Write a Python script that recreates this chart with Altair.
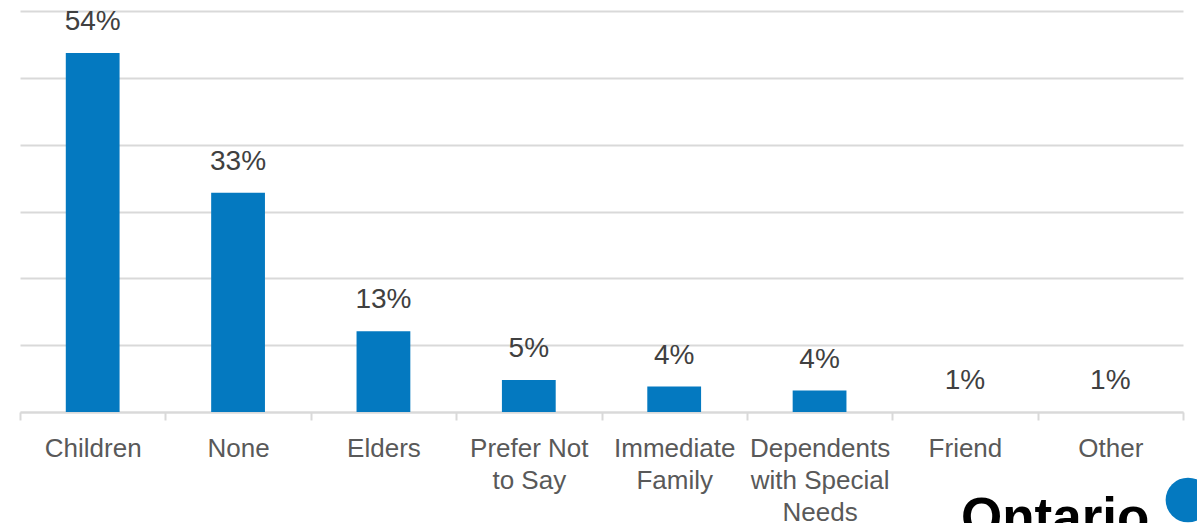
import altair as alt
import pandas as pd

categories = ["Children", "None", "Elders", "Prefer Not\nto Say", "Immediate\nFamily",
              "Dependents\nwith Special\nNeeds", "Friend", "Other"]
bar_values = [53.7, 32.8, 12.1, 4.8, 3.8, 3.2, 0.0, 0.0]
value_labels = ["54%", "33%", "13%", "5%", "4%", "4%", "1%", "1%"]

df = pd.DataFrame({"category": categories, "value": bar_values, "label": value_labels})

FONT = "Liberation Sans"

x = alt.X("category:N", sort=categories, title=None,
          scale=alt.Scale(paddingInner=0, paddingOuter=0),
          axis=alt.Axis(labelAngle=0, labelExpr="split(datum.label, '\\n')",
                        labelFont=FONT, labelFontSize=26, labelColor="#595959",
                        labelLineHeight=32, labelPadding=15, labelBaseline="top",
                        tickBand="extent", tickSize=8, tickColor="#d9d9d9", tickWidth=2,
                        domainColor="#d9d9d9", domainWidth=2, grid=False))
y = alt.Y("value:Q", title=None,
          scale=alt.Scale(domain=[0, 60], nice=False),
          axis=alt.Axis(values=[0, 10, 20, 30, 40, 50, 60], labels=False, ticks=False,
                        domain=False, grid=True, gridColor="#d9d9d9", gridWidth=2))

bars = alt.Chart(df).mark_bar(color="#0479c0", width=alt.RelativeBandSize(0.37)).encode(x=x, y=y)
texts = alt.Chart(df).mark_text(font=FONT, fontSize=28, color="#404040",
                                baseline="middle", dy=-31).encode(
    x=alt.X("category:N", sort=categories), y="value:Q", text="label:N")

logo_text = alt.Chart(pd.DataFrame({"t": ["Ontario"]})).mark_text(
    font=FONT, fontSize=53, fontWeight="bold", color="#000000", align="left",
    baseline="alphabetic").encode(x=alt.value(941), y=alt.value(524), text="t:N")
logo_circle = alt.Chart(pd.DataFrame({"t": ["o"]})).mark_point(
    filled=True, shape="circle", size=2000, color="#0479c0", opacity=1).encode(
    x=alt.value(1168), y=alt.value(489))

chart = alt.layer(bars, texts, logo_text, logo_circle).properties(
    width=1163, height=401,
    autosize=alt.AutoSizeParams(type="none"),
    padding={"left": 20, "top": 11, "right": 14, "bottom": 111},
).configure_view(stroke=None)

chart.save("out.html", embed_options={"renderer": "svg", "actions": False})
